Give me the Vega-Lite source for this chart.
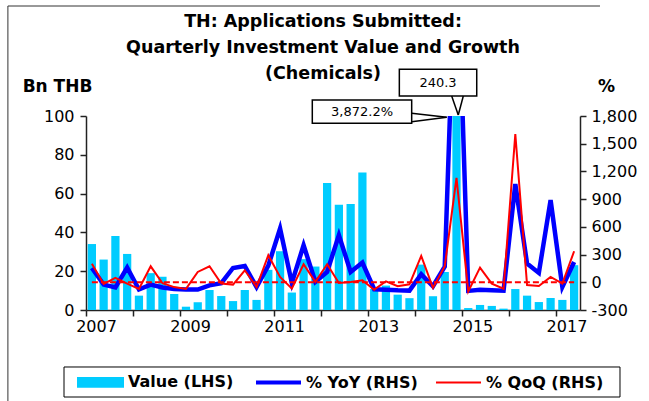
{
  "$schema": "https://vega.github.io/schema/vega-lite/v6.json",
  "width": 494,
  "height": 194,
  "autosize": {"type": "none"},
  "padding": {"left": 86, "top": 116, "right": 69, "bottom": 91},
  "background": "white",
  "config": {
    "view": {"stroke": null},
    "font": "DejaVu Sans",
    "axis": {"domainColor": "#222", "tickColor": "#222", "labelColor": "#000", "titleColor": "#000", "grid": false, "labelFont": "DejaVu Sans", "titleFont": "DejaVu Sans", "domainWidth": 1.5, "tickWidth": 1.5, "labelOverlap": false},
    "legend": {"title": null}
  },
  "title": {
    "text": ["TH: Applications Submitted:", "Quarterly Investment Value and Growth", "(Chemicals)"],
    "fontSize": 17.5, "fontWeight": "bold", "font": "DejaVu Sans", "color": "#000",
    "anchor": "middle", "dx": -10, "lineHeight": 26, "offset": -77
  },
  "data": {"values": [
    {"q": "2007Q1", "value": 34.0, "yoy": 155, "qoq": 200},
    {"q": "2007Q2", "value": 26.0, "yoy": -25, "qoq": -18},
    {"q": "2007Q3", "value": 38.2, "yoy": -55, "qoq": 47},
    {"q": "2007Q4", "value": 28.9, "yoy": 159, "qoq": -15},
    {"q": "2008Q1", "value": 7.4, "yoy": -78, "qoq": -72},
    {"q": "2008Q2", "value": 19.0, "yoy": -25, "qoq": 173},
    {"q": "2008Q3", "value": 17.2, "yoy": -57, "qoq": -10},
    {"q": "2008Q4", "value": 8.3, "yoy": -72, "qoq": -52},
    {"q": "2009Q1", "value": 1.7, "yoy": -78, "qoq": -72},
    {"q": "2009Q2", "value": 4.0, "yoy": -79, "qoq": 112},
    {"q": "2009Q3", "value": 10.3, "yoy": -33, "qoq": 173},
    {"q": "2009Q4", "value": 7.2, "yoy": -10, "qoq": -14},
    {"q": "2010Q1", "value": 4.6, "yoy": 155, "qoq": -25},
    {"q": "2010Q2", "value": 10.3, "yoy": 177, "qoq": 130},
    {"q": "2010Q3", "value": 5.2, "yoy": -51, "qoq": -51},
    {"q": "2010Q4", "value": 20.7, "yoy": 180, "qoq": 293},
    {"q": "2011Q1", "value": 30.3, "yoy": 582, "qoq": 58},
    {"q": "2011Q2", "value": 9.0, "yoy": -7, "qoq": -69},
    {"q": "2011Q3", "value": 26.2, "yoy": 401, "qoq": 195},
    {"q": "2011Q4", "value": 22.4, "yoy": 4, "qoq": 4},
    {"q": "2012Q1", "value": 65.4, "yoy": 112, "qoq": 195},
    {"q": "2012Q2", "value": 54.2, "yoy": 510, "qoq": -7},
    {"q": "2012Q3", "value": 54.7, "yoy": 112, "qoq": 4},
    {"q": "2012Q4", "value": 70.9, "yoy": 213, "qoq": 22},
    {"q": "2013Q1", "value": 10.8, "yoy": -75, "qoq": -80},
    {"q": "2013Q2", "value": 12.6, "yoy": -80, "qoq": 11},
    {"q": "2013Q3", "value": 7.9, "yoy": -87, "qoq": -43},
    {"q": "2013Q4", "value": 6.1, "yoy": -90, "qoq": -22},
    {"q": "2014Q1", "value": 23.4, "yoy": 87, "qoq": 285},
    {"q": "2014Q2", "value": 7.1, "yoy": -43, "qoq": -61},
    {"q": "2014Q3", "value": 19.6, "yoy": 170, "qoq": 173},
    {"q": "2014Q4", "value": 240.3, "yoy": 3872.2, "qoq": 1131},
    {"q": "2015Q1", "value": 1.0, "yoy": -93, "qoq": -99},
    {"q": "2015Q2", "value": 2.6, "yoy": -80, "qoq": 159},
    {"q": "2015Q3", "value": 2.1, "yoy": -87, "qoq": -14},
    {"q": "2015Q4", "value": 0.7, "yoy": -92, "qoq": -69},
    {"q": "2016Q1", "value": 10.8, "yoy": 1063, "qoq": 1605},
    {"q": "2016Q2", "value": 7.4, "yoy": 202, "qoq": -29},
    {"q": "2016Q3", "value": 4.1, "yoy": 101, "qoq": -40},
    {"q": "2016Q4", "value": 6.2, "yoy": 889, "qoq": 58},
    {"q": "2017Q1", "value": 5.2, "yoy": -51, "qoq": -14},
    {"q": "2017Q2", "value": 23.1, "yoy": 220, "qoq": 336}
  ]},
  "layer": [
    {
      "layer": [
        {
          "mark": {"type": "bar", "clip": true},
          "encoding": {
            "x": {
              "field": "q", "type": "ordinal",
              "scale": {"paddingInner": 0.3, "paddingOuter": 0.15},
              "axis": {
                "title": null,
                "values": ["2007Q1","2008Q1","2009Q1","2010Q1","2011Q1","2012Q1","2013Q1","2014Q1","2015Q1","2016Q1","2017Q1"],
                "bandPosition": 0, "tickOffset": -1.76, "labelOffset": 5.88,
                "labelExpr": "(+slice(datum.value,0,4)) % 2 == 1 ? slice(datum.value,0,4) : ''",
                "labelAngle": 0, "labelOverlap": false, "tickSize": 6, "labelFontSize": 16, "labelPadding": 2
              }
            },
            "y": {
              "field": "value", "type": "quantitative",
              "scale": {"domain": [0, 100], "nice": false},
              "axis": {
                "orient": "left", "values": [0, 20, 40, 60, 80, 100], "labelOverlap": false,
                "title": "Bn THB", "titleAngle": 0, "titleX": -29, "titleY": -30,
                "titleAlign": "center", "titleBaseline": "middle", "titleFontSize": 17, "titleFontWeight": "bold",
                "labelFontSize": 16, "tickSize": 6, "labelPadding": 6
              }
            },
            "color": {
              "datum": "value",
              "title": null,
              "scale": {"domain": ["value", "yoy", "qoq"], "range": ["#00CCFF", "#0000FF", "#FF0000"]},
              "legend": {
                "orient": "none", "legendX": -8, "legendY": 258, "direction": "horizontal", "title": null,
                "labelExpr": "datum.label == 'value' ? 'Value (LHS)' : (datum.label == 'yoy' ? '% YoY (RHS)' : '% QoQ (RHS)')",
                "symbolSize": 2025, "symbolType": "stroke", "labelFontSize": 16, "labelFontWeight": "bold",
                "labelFont": "DejaVu Sans", "labelColor": "#000", "labelOffset": 5, "columnPadding": 14, "padding": 0,
                "encode": {
                  "symbols": {
                    "update": {
                      "x": {"value": 22.5},
                      "y": {"value": 8},
                      "size": {"value": 2025},
                      "shape": {"signal": "datum.value === 'value' ? 'M-1,-0.19H1V0.19H-1Z' : 'stroke'"},
                      "fill": {"signal": "datum.value === 'value' ? '#00CCFF' : 'transparent'"},
                      "stroke": {"signal": "datum.value === 'value' ? 'transparent' : (datum.value === 'yoy' ? '#0000FF' : '#FF0000')"},
                      "strokeWidth": {"signal": "datum.value === 'yoy' ? 4 : 2"},
                      "opacity": {"value": 1}
                    }
                  },
                  "labels": {
                    "update": {
                      "x": {"value": 50},
                      "y": {"value": 8},
                      "baseline": {"value": "middle"},
                      "align": {"value": "left"}
                    }
                  }
                }
              }
            }
          }
        },
        {
          "transform": [{"fold": ["yoy", "qoq"], "as": ["series", "pct"]}],
          "mark": {"type": "line", "clip": true},
          "encoding": {
            "x": {"field": "q", "type": "ordinal"},
            "y": {
              "field": "pct", "type": "quantitative",
              "scale": {"domain": [-300, 1800], "nice": false, "zero": false},
              "axis": {
                "orient": "right", "values": [-300, 0, 300, 600, 900, 1200, 1500, 1800], "labelOverlap": false,
                "labelExpr": "datum.value < 0 ? '-' + format(-datum.value, ',') : format(datum.value, ',')",
                "title": "%", "titleAngle": 0, "titleX": 26, "titleY": -30,
                "titleAlign": "center", "titleBaseline": "middle", "titleFontSize": 17, "titleFontWeight": "bold",
                "labelFontSize": 16, "tickSize": 6, "labelPadding": 5
              }
            },
            "color": {"field": "series", "type": "nominal", "title": null},
            "strokeWidth": {"field": "series", "type": "nominal", "scale": {"domain": ["yoy", "qoq"], "range": [4.5, 2]}, "legend": null}
          }
        }
      ],
      "resolve": {"scale": {"y": "independent"}}
    },
    {
      "data": {"values": [{}]},
      "layer": [
        {
          "mark": {"type": "rule", "stroke": "#FF0000", "strokeWidth": 2, "strokeDash": [6, 3]},
          "encoding": {
            "x": {"datum": 0.5, "type": "quantitative", "scale": {"domain": [0, 42], "nice": false, "zero": false}, "axis": null},
            "x2": {"datum": 41.5},
            "y": {"datum": 14.2857, "type": "quantitative", "scale": {"domain": [0, 100], "nice": false}, "axis": null},
            "y2": {"datum": 14.2857}
          }
        },
        {
          "mark": {"type": "rect", "fill": "white", "stroke": "black", "strokeWidth": 1.5},
          "encoding": {
            "x": {"datum": 19.24, "type": "quantitative"},
            "x2": {"datum": 27.69},
            "y": {"datum": 108.2, "type": "quantitative"},
            "y2": {"datum": 96.2}
          }
        },
        {
          "mark": {"type": "rect", "fill": "white", "stroke": "black", "strokeWidth": 1.5},
          "encoding": {
            "x": {"datum": 26.64, "type": "quantitative"},
            "x2": {"datum": 33.22},
            "y": {"datum": 124.1, "type": "quantitative"},
            "y2": {"datum": 110.3}
          }
        },
        {
          "mark": {"type": "rule", "stroke": "black", "strokeWidth": 1.5},
          "encoding": {"x": {"datum": 27.69, "type": "quantitative"}, "x2": {"datum": 30.67}, "y": {"datum": 101.4, "type": "quantitative"}, "y2": {"datum": 99.3}}
        },
        {
          "mark": {"type": "rule", "stroke": "black", "strokeWidth": 1.5},
          "encoding": {"x": {"datum": 27.69, "type": "quantitative"}, "x2": {"datum": 30.67}, "y": {"datum": 97.06, "type": "quantitative"}, "y2": {"datum": 99.3}}
        },
        {
          "mark": {"type": "rule", "stroke": "black", "strokeWidth": 1.5},
          "encoding": {"x": {"datum": 31.09, "type": "quantitative"}, "x2": {"datum": 31.65}, "y": {"datum": 110.3, "type": "quantitative"}, "y2": {"datum": 100.5}}
        },
        {
          "mark": {"type": "rule", "stroke": "black", "strokeWidth": 1.5},
          "encoding": {"x": {"datum": 32.08, "type": "quantitative"}, "x2": {"datum": 31.65}, "y": {"datum": 110.3, "type": "quantitative"}, "y2": {"datum": 100.5}}
        },
        {
          "mark": {"type": "text", "fontSize": 13, "font": "DejaVu Sans", "color": "#000"},
          "encoding": {"x": {"datum": 23.47, "type": "quantitative"}, "y": {"datum": 102.2, "type": "quantitative"}, "text": {"value": "3,872.2%"}}
        },
        {
          "mark": {"type": "text", "fontSize": 13, "font": "DejaVu Sans", "color": "#000"},
          "encoding": {"x": {"datum": 29.93, "type": "quantitative"}, "y": {"datum": 117.2, "type": "quantitative"}, "text": {"value": "240.3"}}
        },
        {
          "mark": {"type": "rect", "fillOpacity": 0, "stroke": "black", "strokeWidth": 1},
          "encoding": {"x": {"datum": -1.87, "type": "quantitative"}, "x2": {"datum": 45.4}, "y": {"datum": -29.38, "type": "quantitative"}, "y2": {"datum": -44.85}}
        },
        {
          "mark": {"type": "rule", "stroke": "#333", "strokeWidth": 1},
          "encoding": {"x": {"datum": -6.64, "type": "quantitative"}, "x2": {"datum": -6.64}, "y": {"datum": 156.7, "type": "quantitative"}, "y2": {"datum": -50}}
        },
        {
          "mark": {"type": "rule", "stroke": "#333", "strokeWidth": 1},
          "encoding": {"x": {"datum": -6.64, "type": "quantitative"}, "x2": {"datum": 43.7}, "y": {"datum": 156.7, "type": "quantitative"}, "y2": {"datum": 156.7}}
        }
      ]
    }
  ],
  "resolve": {"scale": {"x": "independent", "y": "independent"}}
}
